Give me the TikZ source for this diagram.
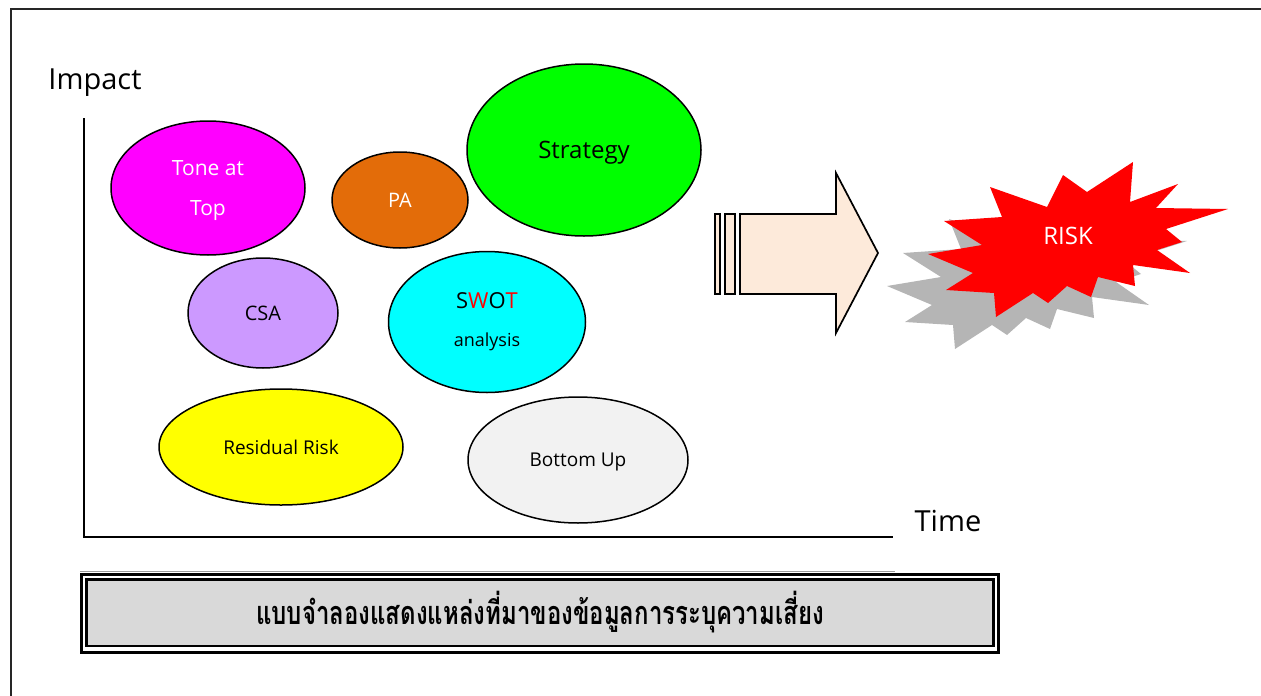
\documentclass[tikz,border=0pt]{standalone}
\usepackage{fontspec}
\setmainfont{Open Sans}
\newfontfamily\thaifont[Script=Thai]{Loma}
\usetikzlibrary{shapes.geometric}
\definecolor{toneC}{HTML}{FF00FF}
\definecolor{paC}{HTML}{E36C09}
\definecolor{stratC}{HTML}{00FF00}
\definecolor{csaC}{HTML}{CC99FF}
\definecolor{swotC}{HTML}{00FFFF}
\definecolor{resC}{HTML}{FFFF00}
\definecolor{botC}{HTML}{F2F2F2}
\definecolor{arrowC}{HTML}{FDEADA}
\definecolor{shadowC}{HTML}{B5B5B5}
\definecolor{boxC}{HTML}{D9D9D9}
\begin{document}
\begin{tikzpicture}[x=1pt,y=-1pt,
  blob/.style={ellipse, draw=black, line width=1.5pt, inner sep=0pt},
  txt/.style={inner sep=0pt},
  axislabel/.style={font=\fontsize{29}{34}\selectfont, inner sep=0pt},
  arrowpart/.style={draw=black, line width=1.7pt, fill=arrowC, line join=miter}]
\useasboundingbox (0,0) rectangle (1261,696);
% outer frame
\draw[line width=2.2pt, black!85] (11,710) -- (11,9) -- (1275,9);
% axes
\coordinate (ytop) at (84,118);
\coordinate (origin) at (84,537);
\coordinate (xend) at (893,537);
\draw[line width=1.3pt] (ytop) -- (origin) -- (xend);
\node[axislabel] (impact) at (95,83) {Impact};
\node[axislabel] (time) at (948,521) {Time};
% ellipses
\node[blob, fill=toneC, minimum width=194pt, minimum height=134pt] (tone) at (208,188) {};
\node[txt, text=white, font=\fontsize{21}{25}\selectfont] (tone1) at (208,168) {Tone at};
\node[txt, text=white, font=\fontsize{21}{25}\selectfont] (tone2) at (208,211) {Top};
\node[blob, fill=paC, minimum width=136pt, minimum height=96pt] (pa) at (400,200) {};
\node[txt, text=white, font=\fontsize{20}{24}\selectfont] (patxt) at (400,200) {PA};
\node[blob, fill=stratC, minimum width=234pt, minimum height=172pt] (strategy) at (584,150) {};
\node[txt, font=\fontsize{24}{28}\selectfont] (strattxt) at (584,153) {Strategy};
\node[blob, fill=csaC, minimum width=150pt, minimum height=110pt] (csa) at (263,313) {};
\node[txt, font=\fontsize{20}{24}\selectfont] (csatxt) at (263,313) {CSA};
\node[blob, fill=swotC, minimum width=197pt, minimum height=141pt] (swot) at (487,322) {};
\node[txt, font=\fontsize{22}{26}\selectfont] (swottxt) at (487,301)
  {S\textcolor{red}{W}O\textcolor{red}{T}};
\node[txt, font=\fontsize{18}{22}\selectfont] (analysistxt) at (487,342) {analysis};
\node[blob, fill=resC, minimum width=244pt, minimum height=116pt] (residual) at (281,447) {};
\node[txt, font=\fontsize{19}{23}\selectfont] (restxt) at (281,447) {Residual Risk};
\node[blob, fill=botC, minimum width=220pt, minimum height=126pt] (bottom) at (578,460) {};
\node[txt, font=\fontsize{19}{23}\selectfont] (bottxt) at (578,462) {Bottom Up};
% striped block arrow
\draw[arrowpart] (715,214) rectangle (720,294);
\draw[arrowpart] (725,214) rectangle (735,294);
\draw[arrowpart] (740,214) -- (836,214) -- (836,173) -- (878,253) -- (836,333) -- (836,294) -- (740,294) -- cycle;
% risk star with shadow
\def\starpath{(944,221) -- (1002,217) -- (990,187) -- (1047,207) -- (1063,175) -- (1087,192) -- (1133,162) -- (1130,202) -- (1178,184) -- (1156,208) -- (1228,209) -- (1166,229) -- (1182,242) -- (1157,250) -- (1190,273) -- (1133,265) -- (1135,286) -- (1098,277) -- (1091,297) -- (1067,286) -- (1048,303) -- (1033,293) -- (996,317) -- (994,293) -- (946,290) -- (973,273) -- (928,254) -- (982,245) -- cycle}
\fill[shadowC, shift={(-41pt,-32pt)}] \starpath;
\fill[red] \starpath;
\node[txt, text=white, font=\fontsize{24}{28}\selectfont] (risk) at (1068,236) {RISK};
% caption box
\draw[black!40, line width=1pt] (80,571) -- (895,571);
\draw[line width=3pt, black] (81.5,574) rectangle (998.5,652.5);
\draw[line width=2.5pt, black, fill=boxC] (86.5,579.5) rectangle (993.5,646);
\node[txt] (caption) at (540,612)
  {\scalebox{1}[1.35]{\thaifont\bfseries\fontsize{24}{28}\selectfont แบบจำลองแสดงแหล่งที่มาของข้อมูลการระบุความเสี่ยง}};
\end{tikzpicture}
\end{document}
